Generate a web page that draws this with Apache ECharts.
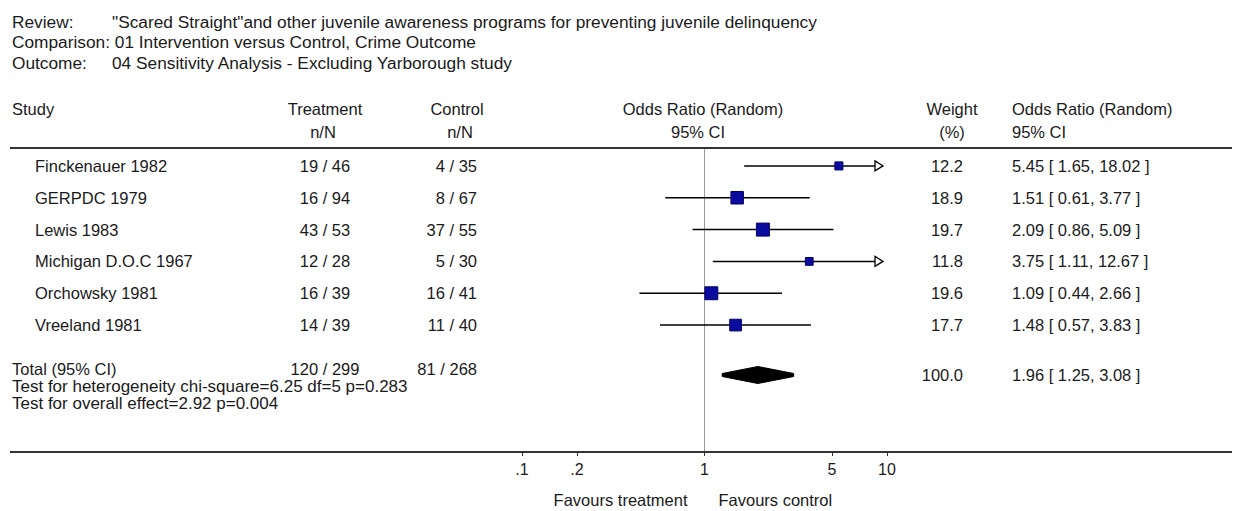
<!DOCTYPE html>
<html>
<head>
<meta charset="utf-8">
<script src="https://cdn.jsdelivr.net/npm/echarts@6/dist/echarts.min.js"></script>
<style>
	html, body { margin: 0; padding: 0; background: #fff; }
	#chart { width: 1239px; height: 511px; }
</style>
</head>
<body>
<div id="chart"></div>
<script>
	// 数据
	var studies = ['Finckenauer 1982', 'GERPDC 1979', 'Lewis 1983', 'Michigan D.O.C 1967', 'Orchowsky 1981', 'Vreeland 1981'];
	var treatment = ['19 / 46', '16 / 94', '43 / 53', '12 / 28', '16 / 39', '14 / 39'];
	var control = ['4 / 35', '8 / 67', '37 / 55', '5 / 30', '16 / 41', '11 / 40'];
	var weights = [12.2, 18.9, 19.7, 11.8, 19.6, 17.7];
	var oddsRatio = [5.45, 1.51, 2.09, 3.75, 1.09, 1.48];
	var ciLow = [1.65, 0.61, 0.86, 1.11, 0.44, 0.57];
	var ciHigh = [18.02, 3.77, 5.09, 12.67, 2.66, 3.83];

	var totalTreatment = '120 / 299';
	var totalControl = '81 / 268';
	var totalWeight = 100.0;
	var totalOr = [1.25, 1.96, 3.08]; // low, estimate, high

	var axisTicks = [0.1, 0.2, 1, 5, 10];

	var headerLines = [
		['Review:', '"Scared Straight"and other juvenile awareness programs for preventing juvenile delinquency'],
		['Comparison: 01 Intervention versus Control, Crime Outcome', ''],
		['Outcome:', '04 Sensitivity Analysis - Excluding Yarborough study']
	];
	var testLines = ['Test for heterogeneity chi-square=6.25 df=5 p=0.283', 'Test for overall effect=2.92 p=0.004'];

	var FONT = '"Liberation Sans", Arial, sans-serif';
	var INK = '#1a1a1a';
	var xMin = axisTicks[0], xMax = axisTicks[axisTicks.length - 1];

	var chart = echarts.init(document.getElementById('chart'), null, { renderer: 'svg' });

	function ciItem(params, api) {
		var lo = api.value(0), hi = api.value(1), row = api.value(2);
		var clipped = hi > xMax;
		var p0 = api.coord([lo, row]);
		var p1 = api.coord([clipped ? xMax : hi, row]);
		var children = [];
		if (clipped) {
			var tip = p1[0] - 4;
			children.push({ type: 'line', shape: { x1: p0[0], y1: p0[1], x2: tip - 8, y2: p0[1] }, style: { stroke: '#000', lineWidth: 1.5 } });
			children.push({ type: 'polygon', shape: { points: [[tip - 8, p0[1] - 5], [tip, p0[1]], [tip - 8, p0[1] + 5]] }, style: { fill: '#fff', stroke: '#000', lineWidth: 1.3 } });
		} else {
			children.push({ type: 'line', shape: { x1: p0[0], y1: p0[1], x2: p1[0], y2: p1[1] }, style: { stroke: '#000', lineWidth: 1.5 } });
		}
		return { type: 'group', children: children };
	}

	function diamondItem(params, api) {
		var row = api.value(3);
		var a = api.coord([api.value(0), row]);
		var m = api.coord([api.value(1), row]);
		var b = api.coord([api.value(2), row]);
		var h = 8.5;
		return {
			type: 'polygon',
			shape: { points: [[a[0], a[1] - 1.5], [m[0], m[1] - h], [b[0], b[1] - 1.5], [b[0], b[1] + 1.5], [m[0], m[1] + h], [a[0], a[1] + 1.5]] },
			style: { fill: '#000', stroke: '#000', lineWidth: 1 }
		};
	}

	var option = {
		animation: false,
		grid: [
			{ left: 522, width: 365, top: 150, height: 191 },
			{ left: 522, width: 365, top: 360, height: 30 }
		],
		xAxis: [
			{ type: 'log', gridIndex: 0, min: xMin, max: xMax, show: false },
			{
				type: 'log', gridIndex: 1, min: xMin, max: xMax, offset: 62,
				axisLine: { show: false },
				splitLine: { show: false },
				axisTick: { show: true, customValues: axisTicks, length: 4, lineStyle: { color: '#333' } },
				axisLabel: {
					customValues: axisTicks, margin: 9, color: INK, fontSize: 16, fontFamily: FONT,
					formatter: function (v) { return v < 1 ? String(v).replace(/^0/, '') : String(v); }
				}
			}
		],
		yAxis: [
			{ type: 'category', gridIndex: 0, data: studies, inverse: true, show: false },
			{ type: 'category', gridIndex: 1, data: ['Total (95% CI)'], show: false }
		],
		series: [
			{
				type: 'custom', xAxisIndex: 0, yAxisIndex: 0,
				renderItem: ciItem, encode: { x: [0, 1], y: 2 },
				data: studies.map(function (s, i) { return [ciLow[i], ciHigh[i], i]; })
			},
			{
				type: 'scatter', xAxisIndex: 0, yAxisIndex: 0,
				symbol: 'rect',
				symbolSize: function (v) { return v[2] * 0.66; },
				itemStyle: { color: '#0b0b9e', borderColor: '#00006a', borderWidth: 1, opacity: 1 },
				data: studies.map(function (s, i) { return [oddsRatio[i], i, weights[i]]; })
			},
			{
				type: 'custom', xAxisIndex: 1, yAxisIndex: 1,
				renderItem: diamondItem, encode: { x: [0, 1, 2], y: 3 },
				data: [[totalOr[0], totalOr[1], totalOr[2], 0]]
			}
		]
	};
	chart.setOption(option);

	function txt(s, x, y, align, size) {
		return {
			type: 'text', x: x, y: y, silent: true,
			style: { text: s, fill: INK, fontSize: size || 16.5, fontFamily: FONT, align: align || 'left', verticalAlign: 'middle' }
		};
	}
	function rule(x1, y, x2, color, w) {
		return { type: 'line', silent: true, shape: { x1: x1, y1: y, x2: x2, y2: y }, style: { stroke: color, lineWidth: w } };
	}

	var g = [];
	// 标题
	[22, 42, 63].forEach(function (y, i) {
		g.push(txt(headerLines[i][0], 12, y, 'left', 17.3));
		if (headerLines[i][1]) g.push(txt(headerLines[i][1], 112, y, 'left', 17.3));
	});
	// 表头
	g.push(txt('Study', 12, 109));
	g.push(txt('Treatment', 325, 109, 'center'));
	g.push(txt('n/N', 323, 132, 'center'));
	g.push(txt('Control', 457, 109, 'center'));
	g.push(txt('n/N', 460, 132, 'center'));
	g.push(txt('Odds Ratio (Random)', 703, 109, 'center'));
	g.push(txt('95% CI', 698, 132, 'center'));
	g.push(txt('Weight', 952, 109, 'center'));
	g.push(txt('(%)', 952, 132, 'center'));
	g.push(txt('Odds Ratio (Random)', 1012, 109));
	g.push(txt('95% CI', 1012, 132));

	g.push(rule(10, 148, 1232, '#333', 2));
	g.push(rule(10, 452, 1232, '#333', 2));

	// 参考线 OR = 1
	var oneX = chart.convertToPixel({ xAxisIndex: 0 }, 1);
	g.push({ type: 'line', silent: true, shape: { x1: oneX, y1: 149, x2: oneX, y2: 451 }, style: { stroke: '#999', lineWidth: 1 } });

	function orText(e, lo, hi) {
		return e.toFixed(2) + ' [ ' + lo.toFixed(2) + ', ' + hi.toFixed(2) + ' ]';
	}

	studies.forEach(function (s, i) {
		var y = chart.convertToPixel({ yAxisIndex: 0 }, i);
		g.push(txt(s, 35, y));
		g.push(txt(treatment[i], 325, y, 'center'));
		g.push(txt(control[i], 477, y, 'right'));
		g.push(txt(weights[i].toFixed(1), 963, y, 'right'));
		g.push(txt(orText(oddsRatio[i], ciLow[i], ciHigh[i]), 1012, y));
	});

	var ty = chart.convertToPixel({ yAxisIndex: 1 }, 0);
	g.push(txt('Total (95% CI)', 12, ty - 6));
	g.push(txt(totalTreatment, 325, ty - 6, 'center'));
	g.push(txt(totalControl, 477, ty - 6, 'right'));
	g.push(txt(totalWeight.toFixed(1), 963, ty, 'right'));
	g.push(txt(orText(totalOr[1], totalOr[0], totalOr[2]), 1012, ty));
	testLines.forEach(function (s, i) {
		g.push(txt(s, 12, ty + 11 + i * 17, 'left', 17));
	});

	g.push(txt('Favours treatment', oneX - 17, 500, 'right'));
	g.push(txt('Favours control', oneX + 14, 500));

	chart.setOption({ graphic: g });
</script>
</body>
</html>
